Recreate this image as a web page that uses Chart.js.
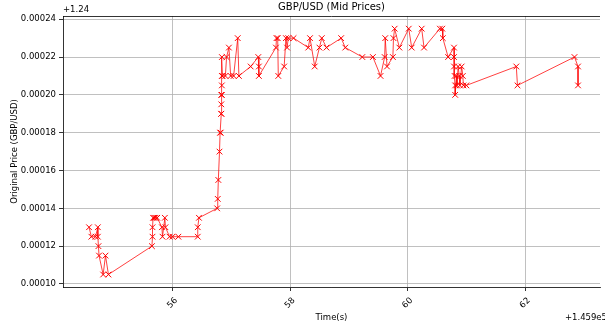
<!DOCTYPE html>
<html>
<head>
<meta charset="utf-8">
<script src="https://cdn.jsdelivr.net/npm/chart.js@4"></script>
<style>
  html, body { margin: 0; padding: 0; background: #fff; }
  canvas { display: block; }
</style>
</head>
<body>
<canvas id="fx" width="605" height="325"></canvas>
<script>
// time stamps (s) and GBP/USD mid prices
const times = [
  145954.58, 145954.62, 145954.69, 145954.73, 145954.73, 145954.74, 145954.75, 145954.82, 145954.86, 145954.91,
  145955.65, 145955.66, 145955.66, 145955.67, 145955.69, 145955.71, 145955.74, 145955.82, 145955.83, 145955.87,
  145955.88, 145955.95, 145956.00, 145956.10, 145956.43, 145956.43, 145956.45, 145956.76, 145956.77, 145956.78,
  145956.80, 145956.81, 145956.82, 145956.83, 145956.83, 145956.83, 145956.83, 145956.84, 145956.84, 145956.84,
  145956.84, 145956.85, 145956.90, 145956.92, 145956.96, 145956.99, 145957.04, 145957.11, 145957.13, 145957.33,
  145957.46, 145957.47, 145957.47, 145957.76, 145957.77, 145957.79, 145957.80, 145957.90, 145957.93, 145957.95,
  145957.97, 145958.06, 145958.31, 145958.34, 145958.42, 145958.50, 145958.54, 145958.62, 145958.87, 145958.94,
  145959.23, 145959.41, 145959.54, 145959.61, 145959.62, 145959.65, 145959.75, 145959.76, 145959.78, 145959.86,
  145960.02, 145960.07, 145960.24, 145960.28, 145960.55, 145960.59, 145960.60, 145960.69, 145960.79, 145960.79,
  145960.79, 145960.80, 145960.81, 145960.81, 145960.83, 145960.84, 145960.86, 145960.88, 145960.89, 145960.92,
  145960.94, 145960.95, 145961.00, 145961.85, 145961.87, 145962.84, 145962.90, 145962.90
];
const mids = [
  1.24013, 1.240125, 1.240125, 1.24013, 1.240125, 1.24012, 1.240115, 1.240105, 1.240115, 1.240105,
  1.24012, 1.240125, 1.24013, 1.240135, 1.240135, 1.240135, 1.240135, 1.24013, 1.240125, 1.240135,
  1.24013, 1.240125, 1.240125, 1.240125, 1.240125, 1.24013, 1.240135, 1.24014, 1.240145, 1.240155,
  1.24017, 1.24018, 1.24018, 1.24019, 1.24019, 1.240195, 1.2402, 1.2402, 1.240205, 1.24021,
  1.24022, 1.24021, 1.24021, 1.24022, 1.240225, 1.24021, 1.24021, 1.24023, 1.24021, 1.240215,
  1.24022, 1.240215, 1.24021, 1.240225, 1.24023, 1.24023, 1.24021, 1.240215, 1.24023, 1.240225,
  1.24023, 1.24023, 1.240225, 1.24023, 1.240215, 1.240225, 1.24023, 1.240225, 1.24023, 1.240225,
  1.24022, 1.24022, 1.24021, 1.24022, 1.24023, 1.240215, 1.24022, 1.24023, 1.240235, 1.240225,
  1.240235, 1.240225, 1.240235, 1.240225, 1.240235, 1.240235, 1.24023, 1.24022, 1.240225, 1.24022,
  1.240215, 1.24021, 1.240205, 1.2402, 1.24021, 1.240205, 1.240215, 1.24021, 1.240205, 1.240215,
  1.24021, 1.240205, 1.240205, 1.240215, 1.240205, 1.24022, 1.240215, 1.240205
];
const xTicks = [145956, 145958, 145960, 145962];
const yTicks = [1.2401, 1.24012, 1.24014, 1.24016, 1.24018, 1.2402, 1.24022, 1.24024];
const X_OFFSET = 145900;
const Y_OFFSET = 1.24;

const FONT = 'DejaVu Sans';

// extra texts matplotlib puts around the axes + the top spine
const decor = {
  id: 'decor',
  afterDraw(chart) {
    const { ctx, chartArea: a } = chart;
    const xs = chart.scales.x;
    ctx.save();
    ctx.strokeStyle = '#000';
    ctx.lineWidth = 0.8;
    ctx.beginPath();
    ctx.moveTo(a.left, a.top + 0.5);
    ctx.lineTo(a.right, a.top + 0.5);
    ctx.stroke();

    ctx.fillStyle = '#000';
    ctx.textBaseline = 'middle';
    ctx.textAlign = 'center';
    ctx.font = `10px "${FONT}"`;
    ctx.fillText('GBP/USD (Mid Prices)', (a.left + a.right) / 2, 7);

    ctx.font = `8.5px "${FONT}"`;
    // rotated x tick labels, centred under their tick like matplotlib
    xTicks.forEach(v => {
      ctx.save();
      ctx.translate(xs.getPixelForValue(v), a.bottom + 16);
      ctx.rotate(-Math.PI / 4);
      ctx.fillText(String(Math.round(v - X_OFFSET)), 0, 0);
      ctx.restore();
    });

    ctx.fillText('Time(s)', (a.left + a.right) / 2, 318);
    ctx.textAlign = 'right';
    ctx.fillText('+1.459e5', 607, 318);
    ctx.textAlign = 'left';
    ctx.fillText('+1.24', a.left, 10);

    ctx.translate(15, (a.top + a.bottom) / 2);
    ctx.rotate(-Math.PI / 2);
    ctx.textAlign = 'center';
    ctx.fillText('Original Price (GBP/USD)', 0, 0);
    ctx.restore();
  }
};

new Chart(document.getElementById('fx').getContext('2d'), {
  type: 'scatter',
  data: {
    datasets: [{
      data: times.map((t, i) => ({ x: t, y: mids[i] })),
      showLine: true,
      borderColor: 'rgba(255,0,0,0.75)',
      borderWidth: 1,
      pointStyle: 'crossRot',
      pointRadius: 4,
      pointBorderColor: '#ff0000',
      pointBackgroundColor: '#ff0000',
      pointBorderWidth: 1
    }]
  },
  options: {
    responsive: false,
    animation: false,
    layout: { padding: { top: 16, left: 0, right: 0, bottom: 0 } },
    plugins: { legend: { display: false }, tooltip: { enabled: false } },
    scales: {
      x: {
        type: 'linear',
        min: 145954.137,
        max: 145963.274,
        afterBuildTicks: s => { s.ticks = xTicks.map(v => ({ value: v })); },
        afterFit: s => { s.height = 38; },
        grid: { color: '#b0b0b0', lineWidth: 0.8, tickLength: 4, tickColor: '#000', tickWidth: 0.8 },
        border: { display: true, color: '#000', width: 0.8 },
        ticks: { display: false }
      },
      y: {
        min: 1.2400984,
        max: 1.2402417,
        afterBuildTicks: s => { s.ticks = yTicks.map(v => ({ value: v })); },
        afterFit: s => { s.width = 63; },
        grid: { color: '#b0b0b0', lineWidth: 0.8, tickLength: 4, tickColor: '#000', tickWidth: 0.8 },
        border: { display: true, color: '#000', width: 0.8 },
        ticks: {
          padding: 3, color: '#000', font: { family: FONT, size: 8.5 },
          callback: v => (v - Y_OFFSET).toFixed(5)
        }
      }
    }
  },
  plugins: [decor]
});
</script>
</body>
</html>
